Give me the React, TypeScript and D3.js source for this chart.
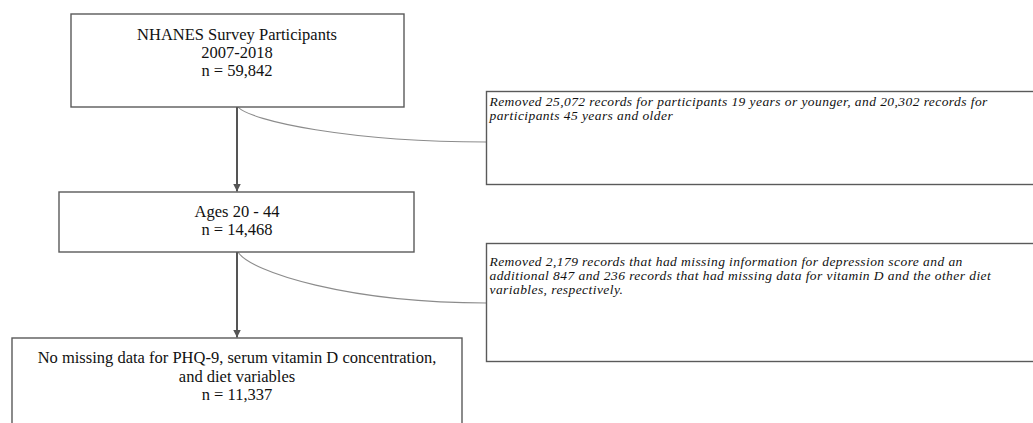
import React from "react";
import * as d3 from "d3";

// ---- data ----
const stageTitles: string[][] = [
  ["NHANES Survey Participants", "2007-2018"],
  ["Ages 20 - 44"],
  ["No missing data for PHQ-9, serum vitamin D concentration,", "and diet variables"],
];
const stageCounts: number[] = [59842, 14468, 11337];
const exclusionNotes: string[][] = [
  [
    "Removed 25,072 records for participants 19 years or younger, and 20,302 records for",
    "participants 45 years and older",
  ],
  [
    "Removed 2,179 records that had missing information for depression score and an",
    "additional 847 and 236 records that had missing data for vitamin D and the other diet",
    "variables, respectively.",
  ],
];

// ---- layout (positions / styles) ----
const W = 1033;
const H = 423;
const CX = 237;
const mainBoxes = [
  { x: 71, y: 14, w: 333, h: 93, base: 40, lh: 18 },
  { x: 59, y: 192, w: 355, h: 60, base: 216.8, lh: 18 },
  { x: 12, y: 338, w: 450, h: 110, base: 363.3, lh: 18.3 },
];
const noteBoxes = [
  { x: 486.5, y: 91.5, w: 580, h: 93, base: 106, lh: 14.3, join: 142 },
  { x: 486.5, y: 243.5, w: 580, h: 118, base: 266, lh: 14, join: 303 },
];
const BORDER = "#5a5a5a";
const ARROW = "#555555";
const CURVE = "#8c8c8c";
const FONT = "'Palatino Linotype', Palatino, 'Book Antiqua', 'Liberation Serif', serif";

const fmt = d3.format(",");

function curvePath(x0: number, y0: number, x1: number, y1: number) {
  const p = d3.path();
  const w = x1 - x0;
  const h = y1 - y0;
  p.moveTo(x0, y0);
  p.bezierCurveTo(x0 + 0.05 * w, y0 + 0.4 * h, x0 + 0.45 * w, y1, x1, y1);
  return p.toString();
}

export default function App() {
  return (
    <svg
      width={W}
      height={H}
      viewBox={`0 0 ${W} ${H}`}
      style={{ position: "absolute", left: 0, top: 0, background: "#fff", display: "block" }}
      fontFamily={FONT}
    >
      <defs>
        <marker id="ah" viewBox="0 0 10 10" refX="10" refY="5" markerWidth="4" markerHeight="4" orient="auto" markerUnits="strokeWidth">
          <path d="M0,0 L10,5 L0,10 Z" fill={ARROW} />
        </marker>
      </defs>
      <rect x={0} y={0} width={W} height={H} fill="#fff" />

      {/* vertical arrows */}
      {mainBoxes.slice(0, -1).map((b, i) => {
        const next = mainBoxes[i + 1];
        return (
          <line
            key={`a${i}`}
            x1={CX}
            x2={CX}
            y1={b.y + b.h}
            y2={next.y - 0.5}
            stroke={ARROW}
            strokeWidth={2}
            markerEnd="url(#ah)"
          />
        );
      })}

      {/* curved connectors to exclusion notes */}
      {noteBoxes.map((n, i) => {
        const b = mainBoxes[i];
        return (
          <path
            key={`c${i}`}
            d={curvePath(CX + 1, b.y + b.h, n.x, n.join)}
            fill="none"
            stroke={CURVE}
            strokeWidth={1.1}
          />
        );
      })}

      {/* main boxes */}
      {mainBoxes.map((b, i) => {
        const lines = [...stageTitles[i], `n = ${fmt(stageCounts[i])}`];
        return (
          <g key={`b${i}`}>
            <rect x={b.x} y={b.y} width={b.w} height={b.h} fill="#fff" stroke={BORDER} strokeWidth={1.4} />
            {lines.map((t, j) => (
              <text key={j} x={CX} y={b.base + j * b.lh} textAnchor="middle" fontSize={16.5} fill="#111">
                {t}
              </text>
            ))}
          </g>
        );
      })}

      {/* exclusion notes */}
      {noteBoxes.map((n, i) => (
        <g key={`n${i}`}>
          <rect x={n.x} y={n.y} width={n.w} height={n.h} fill="#fff" stroke={BORDER} strokeWidth={1.4} />
          {exclusionNotes[i].map((t, j) => (
            <text
              key={j}
              x={n.x + 3}
              y={n.base + j * n.lh}
              fontSize={13.5}
              letterSpacing={0.43}
              fontStyle="italic"
              fill="#111"
            >
              {t}
            </text>
          ))}
        </g>
      ))}
    </svg>
  );
}
